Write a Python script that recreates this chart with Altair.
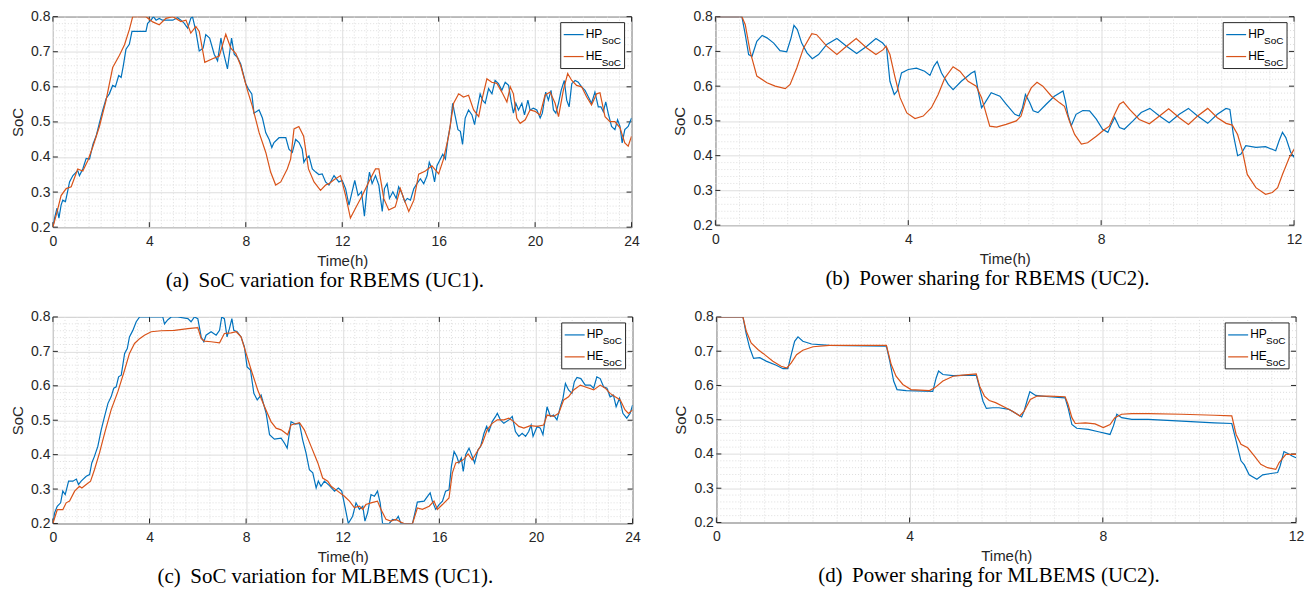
import altair as alt
import pandas as pd

# ---------------- data ----------------
HP_A = [(0,0.2),(0.07,0.226),(0.17,0.254),(0.25,0.226),(0.34,0.263),(0.41,0.277),(0.52,0.273),(0.62,0.305),(0.69,0.329),(0.83,0.347),(1.03,0.361),(1.1,0.347),(1.24,0.366),(1.38,0.396),(1.52,0.394),(1.66,0.436),(1.79,0.459),(1.93,0.497),(2.07,0.534),(2.21,0.567),(2.34,0.58),(2.48,0.604),(2.59,0.6),(2.73,0.632),(2.83,0.627),(2.92,0.66),(3.03,0.707),(3.17,0.721),(3.28,0.758),(3.86,0.758),(3.93,0.781),(4.07,0.79),(4.17,0.8),(4.28,0.79),(4.41,0.795),(4.55,0.79),(4.97,0.79),(5.17,0.797),(5.31,0.79),(5.45,0.781),(5.59,0.767),(5.72,0.795),(5.79,0.8),(5.93,0.758),(6.07,0.702),(6.23,0.71),(6.34,0.749),(6.5,0.739),(6.69,0.693),(6.83,0.674),(6.97,0.739),(7.06,0.702),(7.24,0.651),(7.41,0.739),(7.52,0.693),(7.66,0.683),(7.79,0.665),(8.0,0.609),(8.1,0.595),(8.25,0.58),(8.34,0.525),(8.55,0.534),(8.69,0.511),(8.83,0.469),(8.97,0.45),(9.08,0.427),(9.17,0.441),(9.38,0.455),(9.66,0.455),(9.79,0.422),(9.93,0.413),(10.07,0.45),(10.21,0.441),(10.34,0.422),(10.41,0.385),(10.48,0.394),(10.62,0.403),(10.76,0.366),(10.9,0.357),(11.03,0.35),(11.17,0.352),(11.31,0.329),(11.45,0.32),(11.66,0.347),(11.86,0.329),(12.0,0.333),(12.14,0.31),(12.28,0.263),(12.41,0.301),(12.52,0.333),(12.66,0.29),(12.8,0.301),(12.92,0.231),(13.03,0.31),(13.13,0.357),(13.24,0.324),(13.38,0.347),(13.52,0.319),(13.66,0.245),(13.75,0.31),(13.86,0.324),(13.96,0.282),(14.1,0.301),(14.24,0.282),(14.34,0.315),(14.48,0.296),(14.59,0.273),(14.7,0.282),(14.83,0.277),(14.97,0.31),(15.1,0.324),(15.24,0.338),(15.38,0.324),(15.52,0.347),(15.61,0.385),(15.72,0.366),(15.83,0.329),(15.93,0.375),(16.07,0.394),(16.17,0.408),(16.28,0.394),(16.39,0.455),(16.48,0.487),(16.58,0.553),(16.69,0.515),(16.8,0.478),(16.9,0.473),(16.99,0.436),(17.1,0.511),(17.24,0.534),(17.38,0.52),(17.49,0.492),(17.59,0.534),(17.72,0.58),(17.82,0.562),(17.93,0.553),(18.07,0.595),(18.21,0.58),(18.34,0.618),(18.48,0.609),(18.62,0.59),(18.76,0.613),(18.9,0.604),(19.01,0.557),(19.1,0.525),(19.2,0.553),(19.31,0.534),(19.45,0.553),(19.56,0.52),(19.7,0.562),(19.79,0.534),(19.93,0.539),(20.07,0.534),(20.21,0.511),(20.3,0.525),(20.44,0.585),(20.55,0.562),(20.66,0.59),(20.76,0.534),(20.86,0.525),(20.97,0.553),(21.08,0.59),(21.21,0.618),(21.31,0.562),(21.41,0.543),(21.52,0.609),(21.66,0.618),(21.79,0.613),(21.93,0.6),(22.07,0.59),(22.21,0.571),(22.34,0.553),(22.48,0.585),(22.62,0.543),(22.73,0.543),(22.83,0.529),(22.93,0.557),(23.03,0.525),(23.17,0.487),(23.31,0.478),(23.42,0.506),(23.52,0.487),(23.61,0.44),(23.72,0.478),(23.86,0.487),(24.0,0.511)]
HE_A = [(0,0.2),(0.14,0.235),(0.34,0.29),(0.55,0.31),(0.76,0.315),(1.03,0.366),(1.24,0.36),(1.45,0.39),(1.66,0.43),(1.93,0.487),(2.2,0.56),(2.48,0.655),(2.76,0.69),(2.97,0.72),(3.17,0.763),(3.31,0.8),(3.86,0.8),(4.14,0.785),(4.41,0.777),(4.69,0.795),(4.97,0.8),(5.31,0.786),(5.52,0.79),(5.72,0.753),(5.93,0.772),(6.07,0.758),(6.3,0.67),(6.62,0.68),(6.9,0.688),(7.17,0.75),(7.38,0.71),(7.59,0.695),(7.79,0.66),(8.07,0.59),(8.28,0.543),(8.55,0.47),(8.83,0.413),(9.03,0.357),(9.24,0.32),(9.45,0.329),(9.72,0.366),(9.86,0.394),(10.0,0.48),(10.2,0.487),(10.4,0.459),(10.6,0.366),(10.83,0.329),(11.1,0.305),(11.31,0.32),(11.45,0.324),(11.66,0.335),(11.93,0.347),(12.14,0.29),(12.34,0.226),(12.55,0.254),(12.83,0.29),(13.1,0.329),(13.38,0.366),(13.52,0.366),(13.72,0.282),(13.93,0.249),(14.2,0.258),(14.41,0.31),(14.55,0.282),(14.76,0.245),(14.97,0.277),(15.17,0.351),(15.45,0.36),(15.72,0.375),(16.0,0.352),(16.2,0.394),(16.41,0.459),(16.62,0.553),(16.83,0.58),(17.03,0.571),(17.24,0.576),(17.45,0.534),(17.66,0.515),(17.79,0.562),(18.0,0.623),(18.2,0.613),(18.41,0.61),(18.62,0.585),(18.83,0.557),(18.97,0.6),(19.1,0.58),(19.24,0.51),(19.38,0.496),(19.59,0.506),(19.79,0.534),(20.0,0.53),(20.2,0.52),(20.41,0.576),(20.62,0.585),(20.83,0.553),(20.97,0.515),(21.17,0.59),(21.35,0.638),(21.52,0.618),(21.72,0.604),(21.93,0.6),(22.14,0.571),(22.34,0.548),(22.55,0.58),(22.69,0.583),(22.9,0.515),(23.1,0.501),(23.31,0.501),(23.52,0.483),(23.72,0.44),(23.86,0.431),(24.0,0.459)]

HP_B = [(0,0.8),(0.55,0.8),(0.62,0.748),(0.69,0.691),(0.76,0.686),(0.86,0.729),(0.97,0.746),(1.07,0.739),(1.21,0.724),(1.34,0.702),(1.48,0.699),(1.57,0.739),(1.63,0.775),(1.7,0.763),(1.79,0.724),(1.9,0.696),(2.01,0.679),(2.14,0.691),(2.31,0.72),(2.52,0.737),(2.72,0.715),(2.93,0.694),(3.14,0.715),(3.33,0.737),(3.47,0.724),(3.55,0.71),(3.62,0.614),(3.71,0.576),(3.77,0.586),(3.86,0.638),(4.0,0.648),(4.17,0.652),(4.34,0.643),(4.45,0.631),(4.53,0.657),(4.6,0.671),(4.69,0.638),(4.83,0.605),(4.93,0.59),(5.1,0.614),(5.31,0.638),(5.38,0.643),(5.45,0.586),(5.52,0.538),(5.59,0.552),(5.72,0.581),(5.9,0.571),(6.03,0.548),(6.21,0.519),(6.3,0.514),(6.37,0.538),(6.43,0.576),(6.52,0.552),(6.59,0.529),(6.69,0.524),(6.86,0.548),(7.03,0.571),(7.21,0.586),(7.26,0.557),(7.31,0.519),(7.38,0.486),(7.48,0.519),(7.62,0.53),(7.76,0.529),(7.9,0.505),(8.03,0.476),(8.14,0.467),(8.21,0.49),(8.28,0.51),(8.38,0.481),(8.48,0.476),(8.66,0.5),(8.83,0.524),(9.01,0.536),(9.21,0.514),(9.41,0.495),(9.62,0.519),(9.81,0.536),(10.0,0.514),(10.21,0.493),(10.41,0.519),(10.59,0.536),(10.67,0.533),(10.74,0.462),(10.83,0.4),(10.9,0.405),(11.0,0.429),(11.21,0.424),(11.41,0.426),(11.62,0.414),(11.69,0.443),(11.76,0.467),(11.83,0.452),(11.93,0.41),(12.0,0.395)]
HE_B = [(0,0.8),(0.55,0.8),(0.62,0.777),(0.72,0.7),(0.86,0.629),(1.07,0.61),(1.24,0.6),(1.45,0.593),(1.55,0.605),(1.69,0.653),(1.83,0.71),(2.0,0.751),(2.1,0.748),(2.31,0.715),(2.52,0.691),(2.72,0.715),(2.92,0.737),(3.14,0.71),(3.33,0.691),(3.48,0.705),(3.54,0.715),(3.62,0.691),(3.72,0.629),(3.83,0.567),(3.97,0.523),(4.14,0.507),(4.31,0.514),(4.48,0.538),(4.62,0.576),(4.76,0.624),(4.93,0.656),(5.07,0.643),(5.24,0.614),(5.41,0.6),(5.52,0.567),(5.69,0.485),(5.83,0.482),(6.03,0.49),(6.24,0.5),(6.34,0.514),(6.45,0.567),(6.55,0.595),(6.67,0.611),(6.79,0.6),(6.97,0.571),(7.14,0.552),(7.24,0.542),(7.34,0.5),(7.45,0.461),(7.59,0.433),(7.72,0.437),(7.9,0.456),(8.07,0.475),(8.17,0.485),(8.28,0.519),(8.38,0.548),(8.46,0.555),(8.59,0.533),(8.79,0.504),(9.0,0.492),(9.21,0.514),(9.4,0.535),(9.62,0.509),(9.81,0.49),(10.0,0.514),(10.21,0.536),(10.41,0.509),(10.59,0.493),(10.72,0.488),(10.83,0.461),(10.93,0.413),(11.03,0.346),(11.21,0.308),(11.41,0.289),(11.55,0.294),(11.66,0.308),(11.76,0.346),(11.9,0.394),(12.0,0.418)]

HP_C = [(0,0.2),(0.07,0.231),(0.18,0.25),(0.32,0.26),(0.41,0.294),(0.51,0.284),(0.65,0.323),(0.83,0.323),(0.97,0.329),(1.06,0.313),(1.17,0.323),(1.38,0.337),(1.52,0.342),(1.61,0.376),(1.72,0.395),(1.86,0.424),(2.0,0.472),(2.14,0.511),(2.28,0.549),(2.41,0.568),(2.52,0.593),(2.62,0.597),(2.72,0.626),(2.83,0.631),(2.97,0.694),(3.08,0.708),(3.17,0.742),(3.31,0.761),(3.45,0.786),(3.59,0.8),(4.55,0.8),(4.62,0.78),(4.76,0.792),(4.9,0.8),(5.17,0.8),(5.59,0.795),(5.72,0.786),(5.86,0.8),(6.0,0.795),(6.14,0.742),(6.25,0.728),(6.34,0.747),(6.55,0.757),(6.76,0.747),(6.9,0.761),(6.99,0.8),(7.1,0.795),(7.21,0.742),(7.31,0.766),(7.41,0.795),(7.49,0.761),(7.63,0.757),(7.79,0.742),(7.93,0.713),(8.04,0.655),(8.18,0.646),(8.32,0.578),(8.46,0.559),(8.62,0.573),(8.83,0.52),(8.97,0.458),(9.17,0.445),(9.45,0.448),(9.59,0.433),(9.7,0.419),(9.86,0.496),(10.03,0.489),(10.21,0.491),(10.34,0.443),(10.48,0.405),(10.62,0.356),(10.76,0.347),(10.9,0.303),(10.99,0.323),(11.1,0.308),(11.24,0.323),(11.45,0.31),(11.66,0.294),(11.82,0.303),(11.96,0.294),(12.1,0.246),(12.23,0.2),(12.41,0.221),(12.55,0.26),(12.69,0.241),(12.83,0.25),(12.92,0.207),(13.03,0.231),(13.17,0.284),(13.31,0.279),(13.44,0.294),(13.55,0.26),(13.65,0.2),(13.93,0.2),(14.06,0.212),(14.2,0.21),(14.3,0.221),(14.41,0.2),(14.89,0.2),(15.09,0.262),(15.37,0.265),(15.51,0.279),(15.62,0.289),(15.71,0.265),(15.85,0.241),(15.99,0.255),(16.13,0.265),(16.26,0.294),(16.4,0.298),(16.5,0.366),(16.61,0.409),(16.72,0.395),(16.81,0.376),(16.91,0.39),(16.99,0.351),(17.09,0.4),(17.23,0.419),(17.36,0.395),(17.46,0.376),(17.6,0.414),(17.71,0.424),(17.85,0.462),(17.96,0.482),(18.05,0.467),(18.19,0.496),(18.33,0.511),(18.4,0.52),(18.53,0.501),(18.67,0.491),(18.88,0.501),(19.02,0.511),(19.15,0.467),(19.29,0.453),(19.43,0.462),(19.57,0.453),(19.7,0.467),(19.8,0.486),(19.88,0.453),(20.05,0.482),(20.18,0.477),(20.29,0.458),(20.46,0.539),(20.6,0.511),(20.73,0.515),(20.87,0.501),(21.01,0.539),(21.12,0.564),(21.22,0.607),(21.35,0.588),(21.49,0.578),(21.59,0.612),(21.7,0.624),(21.86,0.621),(22.04,0.602),(22.25,0.602),(22.39,0.593),(22.52,0.626),(22.66,0.621),(22.8,0.597),(22.94,0.593),(23.07,0.568),(23.21,0.573),(23.32,0.539),(23.46,0.564),(23.6,0.52),(23.76,0.506),(23.9,0.52),(24.0,0.544)]
HE_C = [(0,0.2),(0.18,0.24),(0.41,0.24),(0.55,0.26),(0.69,0.265),(0.9,0.294),(1.1,0.308),(1.2,0.303),(1.38,0.313),(1.56,0.323),(1.72,0.356),(1.93,0.405),(2.14,0.462),(2.41,0.53),(2.69,0.583),(2.97,0.646),(3.17,0.694),(3.38,0.723),(3.59,0.737),(3.79,0.747),(4.07,0.757),(4.48,0.76),(5.03,0.761),(5.59,0.766),(6.0,0.769),(6.14,0.737),(6.28,0.73),(6.55,0.728),(6.9,0.725),(7.1,0.752),(7.38,0.754),(7.59,0.757),(7.79,0.742),(8.0,0.694),(8.21,0.646),(8.48,0.588),(8.76,0.54),(9.03,0.496),(9.24,0.477),(9.45,0.472),(9.72,0.458),(9.86,0.486),(10.0,0.489),(10.21,0.493),(10.41,0.472),(10.69,0.424),(10.97,0.376),(11.17,0.332),(11.38,0.323),(11.52,0.308),(11.79,0.294),(12.07,0.279),(12.28,0.265),(12.48,0.246),(12.69,0.25),(12.83,0.241),(12.96,0.255),(13.17,0.26),(13.44,0.265),(13.58,0.241),(13.79,0.212),(13.99,0.207),(14.2,0.212),(14.41,0.204),(14.54,0.2),(14.89,0.2),(15.09,0.245),(15.3,0.241),(15.58,0.25),(15.78,0.265),(15.92,0.241),(16.13,0.255),(16.4,0.274),(16.54,0.347),(16.68,0.376),(16.88,0.38),(17.02,0.387),(17.19,0.402),(17.36,0.385),(17.57,0.409),(17.78,0.433),(17.98,0.472),(18.19,0.491),(18.4,0.501),(18.67,0.501),(18.88,0.506),(19.08,0.496),(19.29,0.482),(19.5,0.477),(19.77,0.484),(20.05,0.482),(20.32,0.486),(20.46,0.515),(20.73,0.511),(20.94,0.52),(21.15,0.559),(21.35,0.568),(21.56,0.588),(21.84,0.602),(22.11,0.595),(22.39,0.588),(22.66,0.602),(22.87,0.593),(23.07,0.578),(23.28,0.568),(23.49,0.559),(23.69,0.53),(23.83,0.52),(24.0,0.53)]

HP_D = [(0,0.8),(0.55,0.8),(0.62,0.749),(0.69,0.71),(0.77,0.679),(0.9,0.681),(1.03,0.671),(1.24,0.659),(1.38,0.649),(1.48,0.649),(1.55,0.69),(1.62,0.729),(1.69,0.742),(1.79,0.729),(1.97,0.721),(2.34,0.717),(3.52,0.715),(3.59,0.671),(3.67,0.613),(3.74,0.588),(3.93,0.585),(4.48,0.583),(4.55,0.622),(4.6,0.642),(4.69,0.632),(4.9,0.629),(5.38,0.63),(5.45,0.593),(5.52,0.554),(5.59,0.533),(5.72,0.535),(5.85,0.535),(6.06,0.53),(6.23,0.516),(6.32,0.508),(6.37,0.525),(6.44,0.559),(6.49,0.582),(6.61,0.571),(6.88,0.567),(7.22,0.564),(7.28,0.535),(7.36,0.486),(7.46,0.475),(7.7,0.472),(7.91,0.465),(8.15,0.457),(8.22,0.482),(8.29,0.516),(8.39,0.506),(8.6,0.501),(8.94,0.501),(9.63,0.496),(10.31,0.491),(10.67,0.489),(10.76,0.438),(10.86,0.38),(10.93,0.368),(11.03,0.339),(11.19,0.326),(11.31,0.339),(11.48,0.343),(11.62,0.346),(11.67,0.365),(11.75,0.407),(11.86,0.399),(11.92,0.394),(12.0,0.389)]
HE_D = [(0,0.8),(0.55,0.8),(0.62,0.758),(0.72,0.724),(0.86,0.705),(1.0,0.69),(1.17,0.671),(1.34,0.656),(1.46,0.651),(1.55,0.666),(1.66,0.69),(1.79,0.703),(2.0,0.713),(2.34,0.717),(3.52,0.717),(3.62,0.661),(3.72,0.627),(3.86,0.603),(4.03,0.588),(4.41,0.585),(4.52,0.593),(4.69,0.613),(4.9,0.627),(5.1,0.63),(5.38,0.634),(5.45,0.598),(5.55,0.569),(5.65,0.556),(5.78,0.55),(5.96,0.537),(6.13,0.525),(6.28,0.511),(6.37,0.525),(6.5,0.559),(6.64,0.569),(6.88,0.569),(7.22,0.567),(7.28,0.545),(7.36,0.506),(7.43,0.489),(7.64,0.491),(7.84,0.488),(8.01,0.477),(8.15,0.486),(8.25,0.506),(8.39,0.516),(8.6,0.518),(8.94,0.518),(9.63,0.516),(10.31,0.513),(10.67,0.511),(10.76,0.457),(10.86,0.428),(11.0,0.418),(11.14,0.394),(11.27,0.37),(11.41,0.36),(11.58,0.355),(11.65,0.375),(11.79,0.399),(12.0,0.399)]

Y_TICKS = [0.2, 0.3, 0.4, 0.5, 0.6, 0.7, 0.8]
Y_MINOR = [0.22, 0.24, 0.26, 0.28, 0.32, 0.34, 0.36, 0.38, 0.42, 0.44, 0.46, 0.48,
           0.52, 0.54, 0.56, 0.58, 0.62, 0.64, 0.66, 0.68, 0.72, 0.74, 0.76, 0.78]
X_TICKS_24 = [0, 4, 8, 12, 16, 20, 24]
X_TICKS_12 = [0, 4, 8, 12]
CAPTIONS = [
    "(a)\u00a0\u2009SoC variation for RBEMS (UC1).",
    "(b)\u00a0\u2009Power sharing for RBEMS (UC2).",
    "(c)\u00a0\u2009SoC variation for MLBEMS (UC1).",
    "(d)\u00a0\u2009Power sharing for MLBEMS (UC2).",
]

# ---------------- style ----------------
BLUE = "#0072BD"
ORANGE = "#D95319"
AXC = "#262626"
GRID = "#dedede"
FONT = "Liberation Sans"


def panel(hp, he, xmax, xticks, caption, W, H):
    xs = alt.Scale(domain=[0, xmax], nice=False, zero=False)
    ys = alt.Scale(domain=[0.2, 0.8], nice=False, zero=False)
    xaxis = alt.Axis(values=xticks, format="d", title="Time(h)", labelFlush=False)
    yaxis = alt.Axis(values=Y_TICKS, format=".1f", title="SoC")
    X = lambda: alt.X("t:Q", scale=xs, axis=xaxis)
    Y = lambda: alt.Y("v:Q", scale=ys, axis=yaxis)

    x_minor = [h / 2 for h in range(0, 2 * xmax + 1) if h % 8]
    minor_x = alt.Chart(pd.DataFrame({"t": x_minor})).mark_rule(
        color=GRID, strokeDash=[1, 2], strokeWidth=1).encode(x=X())
    minor_y = alt.Chart(pd.DataFrame({"v": Y_MINOR})).mark_rule(
        color=GRID, strokeDash=[1, 2], strokeWidth=1).encode(y=Y())

    xt = pd.DataFrame({"t": xticks})
    yt = pd.DataFrame({"v": Y_TICKS})
    tk = dict(color=AXC, strokeWidth=1)
    t_bot = alt.Chart(xt).mark_rule(**tk).encode(x=X(), y=alt.value(H), y2=alt.value(H - 5))
    t_top = alt.Chart(xt).mark_rule(**tk).encode(x=X(), y=alt.value(0), y2=alt.value(5))
    t_lft = alt.Chart(yt).mark_rule(**tk).encode(y=Y(), x=alt.value(0), x2=alt.value(5))
    t_rgt = alt.Chart(yt).mark_rule(**tk).encode(y=Y(), x=alt.value(W - 5), x2=alt.value(W))

    d_hp = pd.DataFrame(hp, columns=["t", "v"])
    d_he = pd.DataFrame(he, columns=["t", "v"])
    l_hp = alt.Chart(d_hp).mark_line(color=BLUE, strokeWidth=1.2, clip=True).encode(x=X(), y=Y())
    l_he = alt.Chart(d_he).mark_line(color=ORANGE, strokeWidth=1.2, clip=True).encode(x=X(), y=Y())

    one = pd.DataFrame({"k": [0]})
    box = alt.Chart(one).mark_rect(fill="white", stroke=AXC, strokeWidth=1).encode(
        x=alt.value(W - 71), x2=alt.value(W - 7), y=alt.value(6), y2=alt.value(52))
    s_hp = alt.Chart(one).mark_rule(color=BLUE, strokeWidth=1.2).encode(
        x=alt.value(W - 68), x2=alt.value(W - 48), y=alt.value(18))
    s_he = alt.Chart(one).mark_rule(color=ORANGE, strokeWidth=1.2).encode(
        x=alt.value(W - 68), x2=alt.value(W - 48), y=alt.value(40))
    txt = dict(align="left", baseline="alphabetic", font=FONT, color="#000000")
    tx_hp = alt.Chart(one).mark_text(text="HP", fontSize=12, **txt).encode(
        x=alt.value(W - 46), y=alt.value(21))
    sb_hp = alt.Chart(one).mark_text(text="SoC", fontSize=10, **txt).encode(
        x=alt.value(W - 30), y=alt.value(27))
    tx_he = alt.Chart(one).mark_text(text="HE", fontSize=12, **txt).encode(
        x=alt.value(W - 46), y=alt.value(43))
    sb_he = alt.Chart(one).mark_text(text="SoC", fontSize=10, **txt).encode(
        x=alt.value(W - 30), y=alt.value(49))

    return alt.layer(
        minor_x, minor_y, t_bot, t_top, t_lft, t_rgt, l_hp, l_he,
        box, s_hp, s_he, tx_hp, sb_hp, tx_he, sb_he,
        title=alt.TitleParams(
            caption, orient="bottom", anchor="middle", frame="bounds",
            font="Liberation Serif", fontSize=21, fontWeight="normal",
            color="#000000", offset=2),
    ).properties(width=W, height=H)


pa = panel(HP_A, HE_A, 24, X_TICKS_24, CAPTIONS[0], 580, 211)
pb = panel(HP_B, HE_B, 12, X_TICKS_12, CAPTIONS[1], 580, 209)
pc = panel(HP_C, HE_C, 24, X_TICKS_24, CAPTIONS[2], 581, 207)
pd_ = panel(HP_D, HE_D, 12, X_TICKS_12, CAPTIONS[3], 581, 206)

chart = alt.vconcat(
    alt.hconcat(pa, pb, spacing=32),
    alt.hconcat(pc, pd_, spacing=32),
    spacing=17,
).properties(
    background="white",
    padding={"left": 2, "top": 0, "right": 2, "bottom": 2},
).configure_view(
    stroke=AXC, strokeWidth=1
).configure_axis(
    grid=True, gridColor=GRID, gridWidth=1, domain=False, ticks=False,
    labelFont=FONT, titleFont=FONT, labelFontSize=14, titleFontSize=15,
    labelColor=AXC, titleColor=AXC, titleFontWeight="normal",
).configure_axisX(
    labelPadding=7, titlePadding=5,
).configure_axisY(
    labelPadding=3, titlePadding=5,
)

chart.save("out.html", embed_options={"renderer": "svg", "actions": False})
